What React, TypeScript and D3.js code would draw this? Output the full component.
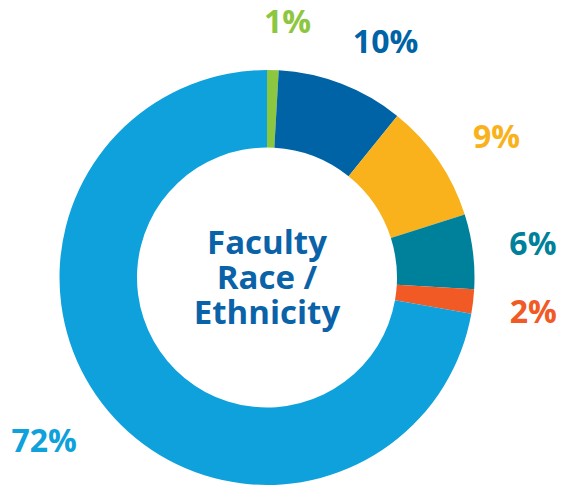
import React from 'react';
import * as d3 from 'd3';

// slices clockwise from 12 o'clock
const groups = ['Two or more', 'Asian', 'Hispanic', 'Black', 'Other', 'White'];
const shares = [0.9, 9.9, 9.3, 5.8, 1.9, 72.2];
const labels = ['1%', '10%', '9%', '6%', '2%', '72%'];
const colors = ['#8dc63f', '#0063a6', '#f9b21b', '#00819b', '#f15a24', '#0ea1dc'];
const titleLines = ['Faculty', 'Race /', 'Ethnicity'];

const width = 561;
const height = 487;
const cx = 267;
const cy = 277.5;
const outerR = 207.5;
const innerR = 130;
const labelR = 266;
const font = "'Open Sans', sans-serif";

// hand placement of the percent labels, relative to the slice centroid
const labelNudge: [number, number][] = [
  [13, 9],
  [23, 11],
  [10, 8],
  [2, -2],
  [2, 2],
  [-19, -9]
];

type Slice = { group: string; share: number; label: string; color: string };

const slices: Slice[] = groups.map((g, i) => ({
  group: g,
  share: shares[i],
  label: labels[i],
  color: colors[i]
}));

const pie = d3.pie<Slice>().value(d => d.share).sort(null);
const arcs = pie(slices);

const arc = d3.arc<d3.PieArcDatum<Slice>>().innerRadius(innerR).outerRadius(outerR);
const labelArc = d3.arc<d3.PieArcDatum<Slice>>().innerRadius(labelR).outerRadius(labelR);

export default function App() {
  return (
    <svg
      width={width}
      height={height}
      style={{ position: 'absolute', left: 0, top: 0, background: '#fff' }}
    >
      <g transform={`translate(${cx},${cy})`}>
        {arcs.map((a, i) => (
          <path key={i} d={arc(a) || ''} fill={a.data.color} />
        ))}
        {arcs.map((a, i) => {
          const [lx, ly] = labelArc.centroid(a);
          return (
            <text
              key={'l' + i}
              x={lx + labelNudge[i][0]}
              y={ly + labelNudge[i][1]}
              textAnchor="middle"
              dominantBaseline="central"
              fontFamily={font}
              fontWeight={700}
              fontSize={32}
              fill={a.data.color}
            >
              {a.data.label}
            </text>
          );
        })}
        {titleLines.map((t, i) => (
          <text
            key={'t' + i}
            x={0}
            y={(i - 1) * 35 + 11}
            textAnchor="middle"
            fontFamily={font}
            fontWeight={700}
            fontSize={33}
            fill="#0a63a8"
          >
            {t}
          </text>
        ))}
      </g>
    </svg>
  );
}
